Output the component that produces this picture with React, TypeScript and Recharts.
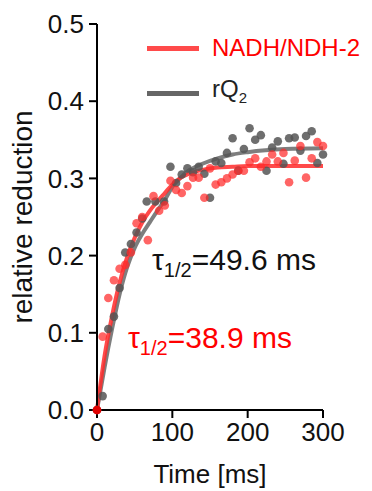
import {
  ComposedChart, Scatter, Line, XAxis, YAxis,
} from 'recharts';

// raw data
const RED_T = [0, 7.5, 15, 22.5, 30, 37.5, 45, 52.5, 60, 67.5, 75, 82.5, 90, 97.5, 105, 112.5, 120, 127.5, 135, 142.5,
  150, 157.5, 165, 172.5, 180, 187.5, 195, 202.5, 210, 217.5, 225, 232.5, 240, 247.5, 255, 262.5, 270, 277.5, 285, 292.5, 300];
const RED_V = [0, 0.095, 0.145, 0.168, 0.183, 0.188, 0.204, 0.242, 0.25, 0.22, 0.277, 0.258, 0.265, 0.297, 0.285, 0.281,
  0.29, 0.301, 0.301, 0.275, 0.313, 0.292, 0.295, 0.3, 0.305, 0.31, 0.31, 0.321, 0.326, 0.315, 0.322, 0.331, 0.322, 0.333,
  0.295, 0.323, 0.342, 0.301, 0.326, 0.347, 0.342];

const GRAY_T = [0, 7.5, 15, 22.5, 30, 37.5, 45, 52.5, 60, 66, 77.5, 89, 97.5, 105, 112.5, 120, 127.5, 135, 142.5, 150,
  157.5, 165, 172.5, 180, 187.5, 195, 202.5, 210, 217.5, 225, 232.5, 240, 247.5, 255, 262.5, 270, 277.5, 285, 292.5, 300];
const GRAY_V = [0, 0.018, 0.105, 0.121, 0.158, 0.204, 0.215, 0.23, 0.248, 0.27, 0.27, 0.27, 0.315, 0.294, 0.305, 0.313,
  0.308, 0.315, 0.306, 0.275, 0.322, 0.32, 0.333, 0.352, 0.31, 0.338, 0.365, 0.35, 0.356, 0.31, 0.34, 0.348, 0.319, 0.352,
  0.353, 0.336, 0.355, 0.361, 0.32, 0.331];

// fitted curves
const FIT_T = [0, 10, 20, 30, 40, 50, 60, 70, 80, 90, 100, 110, 120, 140, 160, 180, 200, 250, 300];
const FIT_RED = [0, 0.07, 0.122, 0.165, 0.198, 0.223, 0.243, 0.258, 0.27, 0.281, 0.292, 0.3, 0.305, 0.311, 0.314, 0.315, 0.316, 0.316, 0.316];
const FIT_GRAY = [0, 0.055, 0.105, 0.15, 0.185, 0.21, 0.228, 0.243, 0.258, 0.272, 0.289, 0.3, 0.309, 0.319, 0.326, 0.331, 0.334, 0.338, 0.339];

const X_TICKS = [0, 100, 200, 300];
const Y_TICKS = [0, 0.1, 0.2, 0.3, 0.4, 0.5];

const RED = '#ff2a2a';
const GRAY = '#555555';
const FONT = '"Liberation Sans", Arial, Helvetica, sans-serif';

const zip = (t: number[], v: number[]) => t.map((x, i) => ({ t: x, v: v[i] }));

const redPts = zip(RED_T, RED_V);
const grayPts = zip(GRAY_T, GRAY_V);
const redFit = zip(FIT_T, FIT_RED);
const grayFit = zip(FIT_T, FIT_GRAY);

const dot = (color: string, opacity: number) => (p: { cx?: number; cy?: number }) => (
  <circle cx={p.cx} cy={p.cy} r={4.3} fill={color} fillOpacity={opacity} />
);

const LegendBox = () => (
  <div style={{ position: 'absolute', left: 147, top: 34, fontSize: 24, lineHeight: '28px', whiteSpace: 'nowrap' }}>
    <div style={{ display: 'flex', alignItems: 'center', height: 28 }}>
      <span style={{ width: 52, height: 5, background: RED, opacity: 0.85, marginRight: 13 }} />
      <span style={{ color: '#ff0000' }}>NADH/NDH-2</span>
    </div>
    <div style={{ display: 'flex', alignItems: 'center', height: 28, marginTop: 17 }}>
      <span style={{ width: 52, height: 5, background: '#666', marginRight: 13 }} />
      <span style={{ color: '#222' }}>rQ<sub style={{ fontSize: 15 }}>2</sub></span>
    </div>
  </div>
);

const YLabel = (props: { viewBox?: { x: number; y: number; width: number; height: number } }) => {
  const vb = props.viewBox || { x: 0, y: 0, width: 0, height: 0 };
  const cx = 22;
  const cy = vb.y + vb.height / 2;
  return (
    <text x={cx} y={cy} transform={`rotate(-90 ${cx} ${cy})`} textAnchor="middle" dominantBaseline="central"
      fontSize={28} fill="#111">
      relative reduction
    </text>
  );
};

export default function App() {
  return (
    <div style={{ position: 'absolute', left: 0, top: 0, width: 372, height: 491, background: '#fff', fontFamily: FONT }}>
      <ComposedChart width={372} height={491} margin={{ top: 24, right: 49, left: 0, bottom: 0 }}>
        <XAxis
          type="number"
          dataKey="t"
          domain={[0, 300]}
          ticks={X_TICKS}
          height={81}
          tickSize={8}
          tickMargin={5}
          stroke="#000"
          strokeWidth={2}
          tick={{ fontSize: 26, fill: '#111' }}
          label={{ value: 'Time [ms]', position: 'insideBottom', offset: 8, fontSize: 26, fill: '#111' }}
        />
        <YAxis
          type="number"
          dataKey="v"
          domain={[0, 0.5]}
          ticks={Y_TICKS}
          width={97}
          tickSize={8}
          tickMargin={5}
          stroke="#000"
          strokeWidth={2}
          tick={{ fontSize: 26, fill: '#111' }}
          tickFormatter={(v: number) => v.toFixed(1)}
          label={<YLabel />}
        />
        <Scatter data={grayPts} dataKey="v" name="rQ2" shape={dot(GRAY, 0.85)} isAnimationActive={false} />
        <Scatter data={redPts} dataKey="v" name="NADH/NDH-2" shape={dot(RED, 0.72)} isAnimationActive={false} />
        <Line data={grayFit} dataKey="v" type="monotone" stroke="#707070" strokeOpacity={0.9} strokeWidth={4}
          dot={false} activeDot={false} isAnimationActive={false} />
        <Line data={redFit} dataKey="v" type="monotone" stroke={RED} strokeOpacity={0.85} strokeWidth={4}
          dot={false} activeDot={false} isAnimationActive={false} />
        <Scatter data={[redPts[0]]} dataKey="v" shape={dot('#e00000', 1)} isAnimationActive={false} />
      </ComposedChart>
      <LegendBox />
      <div style={{ position: 'absolute', left: 152, top: 244, fontSize: 30, lineHeight: '32px', color: '#111', whiteSpace: 'nowrap' }}>
        τ<sub style={{ fontSize: 20 }}>1/2</sub>=49.6 ms
      </div>
      <div style={{ position: 'absolute', left: 128, top: 322, fontSize: 30, lineHeight: '32px', color: '#ff0000', whiteSpace: 'nowrap' }}>
        τ<sub style={{ fontSize: 20 }}>1/2</sub>=38.9 ms
      </div>
    </div>
  );
}
